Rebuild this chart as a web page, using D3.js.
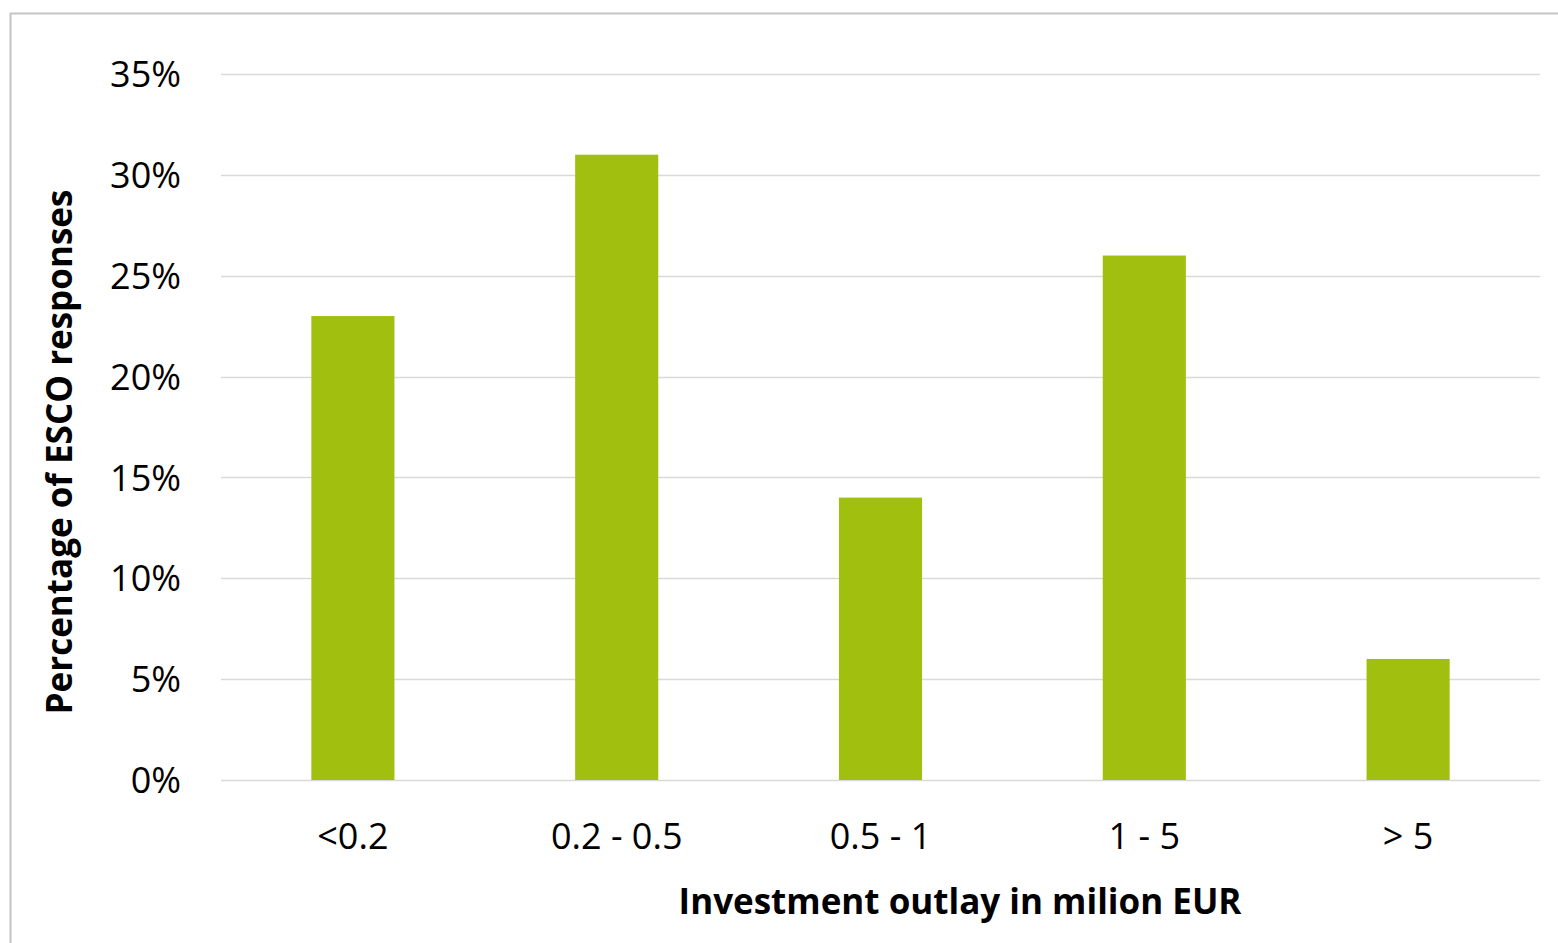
<!DOCTYPE html>
<html><head><meta charset="utf-8">
<script src="https://cdn.jsdelivr.net/npm/d3@7"></script>
<style>
html,body{margin:0;padding:0;background:#fff;}
svg{display:block;}
text{font-family:"Open Sans",sans-serif;fill:#000;}
</style></head>
<body>
<svg id="chart" width="1558" height="943"></svg>
<script>
const categories = ["<0.2", "0.2 - 0.5", "0.5 - 1", "1 - 5", "> 5"];
const values = [23, 31, 14, 26, 6];
const yTicks = [0, 5, 10, 15, 20, 25, 30, 35];
const yTitle = "Percentage of ESCO responses";
const xTitle = "Investment outlay in milion EUR";

const svg = d3.select("#chart");
const margin = {left: 221, right: 18, top: 74, bottom: 163};
const W = 1558, H = 943;

// outer border
svg.append("rect").attr("x", 10.5).attr("y", 13.5).attr("width", W).attr("height", H)
  .attr("fill", "none").attr("stroke", "#c4c4c4").attr("stroke-width", 2);

const x = d3.scaleBand().domain(categories).range([margin.left, W - margin.right])
  .paddingInner(0.685).paddingOuter(0.3425);
const y = d3.scaleLinear().domain([0, 35]).range([H - margin.bottom, margin.top]);

// gridlines
svg.append("g").selectAll("line").data(yTicks).join("line")
  .attr("x1", margin.left).attr("x2", W - margin.right)
  .attr("y1", d => Math.round(y(d)) + 0.5).attr("y2", d => Math.round(y(d)) + 0.5)
  .attr("stroke", "#d9d9d9").attr("stroke-width", 1.5);

// bars
svg.append("g").selectAll("rect").data(values).join("rect")
  .attr("x", (d, i) => x(categories[i]))
  .attr("width", x.bandwidth())
  .attr("y", d => y(d))
  .attr("height", d => y(0) - y(d))
  .attr("fill", "#a0bf0e");

// y axis
const yAxis = d3.axisLeft(y).tickValues(yTicks).tickFormat(d => d + "%").tickSize(0).tickPadding(40);
const gy = svg.append("g").attr("transform", `translate(${margin.left},0)`).call(yAxis);
gy.select(".domain").remove();
gy.selectAll("text").style("font-size", "36px").attr("fill", "#000").attr("dy", "0.35em");

// x axis
const xAxis = d3.axisBottom(x).tickSize(0).tickPadding(46);
const gx = svg.append("g").attr("transform", `translate(0,${y(0)})`).call(xAxis);
gx.select(".domain").remove();
gx.selectAll("text").style("font-size", "36px").attr("fill", "#000").attr("dy", "0.65em");

// titles
svg.append("text").attr("x", 960).attr("y", 902).attr("dy", "0.35em")
  .attr("text-anchor", "middle").style("font-size", "35px").style("font-weight", "bold")
  .text(xTitle);
svg.append("text").attr("transform", `translate(60,452) rotate(-90)`).attr("dy", "0.35em")
  .attr("text-anchor", "middle").style("font-size", "35px").style("font-weight", "bold")
  .text(yTitle);
</script>
</body></html>
